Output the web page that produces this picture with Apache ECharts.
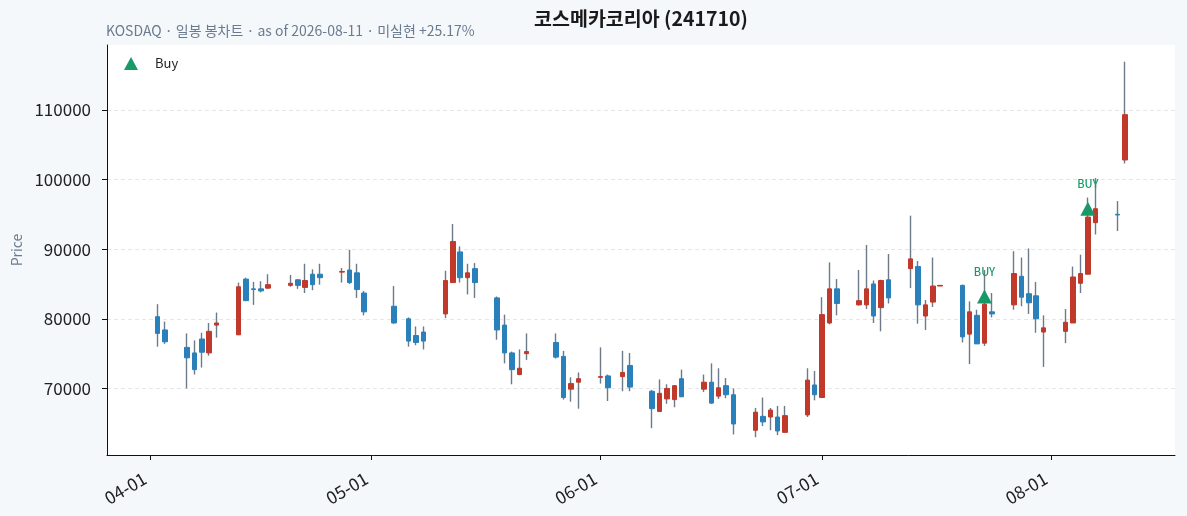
<!DOCTYPE html>
<html>
<head>
<meta charset="utf-8">
<script src="https://cdn.jsdelivr.net/npm/echarts@6/dist/echarts.min.js"></script>
<style>
  html, body { margin: 0; padding: 0; background: #f5f8fb; }
  #main { width: 1187px; height: 516px; }
</style>
</head>
<body>
<div id="main"></div>
<script>
// 일봉 데이터 (날짜, 시가, 종가, 저가, 고가)
const dates = [
  '2026-04-02','2026-04-03','2026-04-06','2026-04-07','2026-04-08','2026-04-09','2026-04-10',
  '2026-04-13','2026-04-14','2026-04-15','2026-04-16','2026-04-17',
  '2026-04-20','2026-04-21','2026-04-22','2026-04-23','2026-04-24',
  '2026-04-27','2026-04-28','2026-04-29','2026-04-30',
  '2026-05-04','2026-05-06','2026-05-07','2026-05-08',
  '2026-05-11','2026-05-12','2026-05-13','2026-05-14','2026-05-15',
  '2026-05-18','2026-05-19','2026-05-20','2026-05-21','2026-05-22',
  '2026-05-26','2026-05-27','2026-05-28','2026-05-29',
  '2026-06-01','2026-06-02','2026-06-04','2026-06-05',
  '2026-06-08','2026-06-09','2026-06-10','2026-06-11','2026-06-12',
  '2026-06-15','2026-06-16','2026-06-17','2026-06-18','2026-06-19',
  '2026-06-22','2026-06-23','2026-06-24','2026-06-25','2026-06-26',
  '2026-06-29','2026-06-30','2026-07-01','2026-07-02','2026-07-03',
  '2026-07-06','2026-07-07','2026-07-08','2026-07-09','2026-07-10',
  '2026-07-13','2026-07-14','2026-07-15','2026-07-16','2026-07-17',
  '2026-07-20','2026-07-21','2026-07-22','2026-07-23','2026-07-24',
  '2026-07-27','2026-07-28','2026-07-29','2026-07-30','2026-07-31',
  '2026-08-03','2026-08-04','2026-08-05','2026-08-06','2026-08-07',
  '2026-08-10','2026-08-11'
];
const opens = [
  80300,78400,75900,75100,77100,75100,79100,
  77700,85700,84300,84300,84400,
  84800,85600,84500,86400,86400,
  86700,87000,86600,83700,
  81800,80000,77600,78100,
  80700,85200,89600,85900,87200,
  83000,79100,75100,72000,75000,
  76600,74600,69900,70900,
  71600,71800,71700,73300,
  69600,66700,68500,68400,71400,
  69900,70900,68900,70400,69100,
  64000,66000,65900,65900,63700,
  66200,70500,68700,79400,84300,
  82000,82000,85000,81600,85600,
  87200,87500,80400,82400,84700,
  84800,77800,80500,76500,81000,
  82000,86100,83600,83300,78100,
  78200,79400,85100,86400,93800,
  95000,102800
];
const closes = [
  77900,76700,74400,72700,75200,78200,79400,
  84600,82600,84200,84000,84900,
  85100,84800,85500,84900,85900,
  86800,85200,84200,81000,
  79400,76800,76600,76800,
  85500,91100,85900,86600,85200,
  78400,75100,72700,72900,75300,
  74500,68700,70700,71400,
  71700,70100,72300,70200,
  67100,69300,70000,70400,68800,
  70900,67900,70100,69100,64900,
  66600,65200,66900,63900,66100,
  71200,69100,80600,84300,82200,
  82600,84300,80400,85500,83000,
  88600,82000,82000,84700,84800,
  77400,81000,76400,82100,80700,
  86500,83100,82300,80000,78700,
  79500,86000,86500,94600,95800,
  94900,109300
];
const lows = [
  76000,76400,70000,72000,73000,74700,77300,
  77700,82600,82000,83800,84300,
  84600,84300,83700,84100,84900,
  85200,85000,83000,80500,
  79300,76000,76200,75600,
  80100,85200,85200,83500,83000,
  77000,73600,70600,71900,74100,
  74300,68400,68100,67100,
  70700,68200,69600,69600,
  64300,66700,67800,67300,68800,
  69500,67800,68500,68600,63400,
  63000,64600,64000,63300,63700,
  65900,68300,68700,79200,80500,
  81900,81400,79400,78200,82200,
  84400,79300,78400,81700,84700,
  76600,73500,76400,76100,80200,
  81300,81800,80700,78000,73100,
  76500,79400,83700,86400,92100,
  92600,102300
];
const highs = [
  82100,79600,77900,76900,78000,79400,80900,
  85200,85900,85300,85400,86400,
  86300,85700,87900,87100,87900,
  87300,89900,87900,84000,
  84700,80200,78900,78900,
  86900,93600,90400,87900,88000,
  83200,80600,75300,75600,77900,
  77900,75400,71600,72300,
  75900,72000,75400,75100,
  69800,71300,70600,70500,72700,
  72000,73600,72900,71500,70000,
  67200,68700,67200,67500,67500,
  72900,72500,83100,88100,85700,
  87000,90600,85500,85600,89300,
  94800,88300,82700,88800,84800,
  84900,82500,81300,87000,83700,
  89700,88800,90100,85300,80500,
  81400,87500,89200,97400,100200,
  96900,116900
];

// 매수 신호
const buyDates = ['2026-07-23', '2026-08-06'];
const buyPrices = [83200, 95800];

// 축 눈금
const yTicks = [70000, 80000, 90000, 100000, 110000];
const xTicks = ['2026-04-01', '2026-05-01', '2026-06-01', '2026-07-01', '2026-08-01'];

const UP = '#c0392b';
const DOWN = '#2a80ba';
const WICK = '#6c7a89';
const BUY = '#189a68';
const FONT = '"Noto Sans CJK KR", "Noto Sans", sans-serif';

// 'yyyy-MM-dd' -> 로컬 타임스탬프
function ts(s) {
  const p = s.split('-');
  return new Date(+p[0], +p[1] - 1, +p[2]).getTime();
}
const DAY = 86400000;

const wickData = dates.map((d, i) => [ts(d), opens[i], closes[i], lows[i], highs[i]]);
const bodyData = dates.map((d, i) => [ts(d), opens[i], closes[i],
  Math.min(opens[i], closes[i]), Math.max(opens[i], closes[i])]);
const buyData = buyDates.map((d, i) => [ts(d), buyPrices[i]]);

const pad = n => (n < 10 ? '0' : '') + n;

const chart = echarts.init(document.getElementById('main'));
chart.setOption({
  backgroundColor: '#f5f8fb',
  animation: false,
  textStyle: { fontFamily: FONT },
  title: [
    {
      text: '코스메카코리아 (241710)',
      left: 641, top: 9, textAlign: 'center', padding: 0,
      textStyle: { fontSize: 19.5, fontWeight: 'bold', color: '#1a1a1a', fontFamily: FONT }
    },
    {
      text: 'KOSDAQ · 일봉 봉차트 · as of 2026-08-11 · 미실현 +25.17%',
      left: 106, top: 24, padding: 0,
      textStyle: { fontSize: 14, fontWeight: 'normal', color: '#6b7b8f', fontFamily: FONT }
    }
  ],
  legend: {
    left: 119, top: 52,
    itemWidth: 14, itemHeight: 13,
    data: [{ name: 'Buy', icon: 'triangle' }],
    textStyle: { fontSize: 13, color: '#222', padding: [0, 0, 0, 12] }
  },
  grid: {
    left: 107, right: 12, top: 45, bottom: 61,
    show: true, backgroundColor: '#ffffff', borderWidth: 0
  },
  xAxis: {
    type: 'value',
    min: ts('2026-03-26') + DAY / 6,
    max: ts('2026-08-17') + DAY * 0.8,
    axisLine: { show: true, onZero: false, lineStyle: { color: '#111', width: 1 } },
    axisTick: { show: true, customValues: xTicks.map(ts), length: 5, lineStyle: { color: '#111' } },
    axisLabel: {
      customValues: xTicks.map(ts),
      rotate: 30, margin: 19, fontSize: 17.5, color: '#222',
      padding: [0, 6, 0, 0],
      formatter: v => { const d = new Date(v); return pad(d.getMonth() + 1) + '-' + pad(d.getDate()); }
    },
    splitLine: { show: false }
  },
  yAxis: {
    type: 'value',
    min: 60450, max: 119300,
    name: 'Price', nameLocation: 'middle', nameGap: 83,
    nameTextStyle: { color: '#6b7b8f', fontSize: 14 },
    axisLine: { show: true, lineStyle: { color: '#111', width: 1 } },
    axisTick: { show: true, customValues: yTicks, length: 5, lineStyle: { color: '#111' } },
    axisLabel: { customValues: yTicks, margin: 16, fontSize: 17, color: '#222', formatter: v => String(v) },
    splitLine: { show: true, lineStyle: { color: '#e6e6e6', type: [4, 3], width: 1 } }
  },
  series: [
    {
      name: 'wick', type: 'candlestick',
      data: wickData, barWidth: 0.5,
      itemStyle: { color: WICK, color0: WICK, borderColor: WICK, borderColor0: WICK, borderWidth: 1.4 },
      z: 2
    },
    {
      name: 'body', type: 'candlestick',
      data: bodyData, barWidth: 5,
      itemStyle: { color: UP, color0: DOWN, borderColor: UP, borderColor0: DOWN, borderWidth: 1 },
      z: 3
    },
    {
      name: 'Buy', type: 'scatter',
      data: buyData, symbol: 'triangle', symbolSize: [15, 14],
      itemStyle: { color: BUY, opacity: 1 },
      label: {
        show: true, position: 'top', distance: 12,
        formatter: 'BUY', color: BUY, fontSize: 11, fontWeight: 500, fontFamily: FONT
      },
      z: 5
    }
  ]
});
</script>
</body>
</html>
